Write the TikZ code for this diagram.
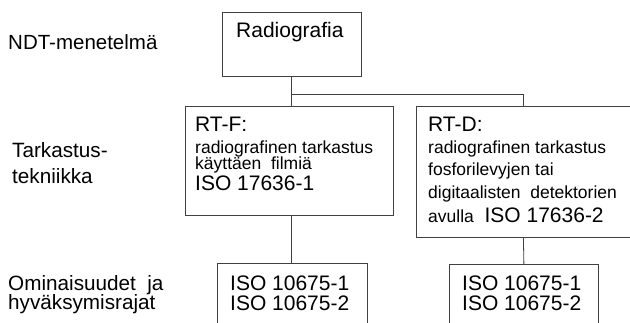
\documentclass[tikz,border=0pt]{standalone}
\usepackage{fontspec}
\setmainfont{Liberation Sans}
\usepackage{tikz}

\begin{document}
\begin{tikzpicture}[x=1pt,y=-1pt]
\definecolor{chartLine}{HTML}{404040}
\tikzset{
  box/.style={draw=chartLine,line width=0.8pt,inner sep=0pt,anchor=north west},
  bigtext/.style={font=\fontsize{21}{21}\selectfont,inner sep=0pt,anchor=base west},
  smalltext/.style={font=\fontsize{17.5}{17.5}\selectfont,inner sep=0pt,anchor=base west},
  rowlabel/.style={font=\fontsize{20.5}{20}\selectfont,inner sep=0pt,anchor=base west,align=left}
}
\useasboundingbox (0,0) rectangle (630,322);
% row labels (base = last line)
\node[rowlabel] (ndt) at (8,49) {NDT-menetelmä};
\node[rowlabel,font=\fontsize{20.7}{26}\selectfont] (tekniikka) at (12,183) {Tarkastus-\\tekniikka};
\node[rowlabel,font=\fontsize{20.7}{19.5}\selectfont] (rajat) at (8,309.5) {Ominaisuudet\ \ ja\\hyväksymisrajat};
% boxes
\node[box,minimum width=139,minimum height=64] (radio) at (222,12) {};
\node[box,minimum width=208,minimum height=109] (rtf) at (185,106) {};
\node[box,minimum width=214,minimum height=131] (rtd) at (416,106) {};
\node[box,minimum width=150,minimum height=80] (isoF) at (217,263) {};
\node[box,minimum width=149,minimum height=80] (isoD) at (449,264) {};
% texts in the boxes
\node[bigtext] (radiotext) at (236,37) {Radiografia};
\node[bigtext] (rtfhead) at (195,131.7) {RT-F:};
\node[smalltext] (rtfa) at (195,153) {radiografinen tarkastus};
\node[smalltext] (rtfb) at (195,169) {käyttäen\ \ filmiä};
\node[bigtext] (rtfiso) at (195,190.7) {ISO 17636-1};
\node[bigtext] (rtdhead) at (428,131.7) {RT-D:};
\node[smalltext] (rtda) at (428,153) {radiografinen tarkastus};
\node[smalltext] (rtdb) at (428,175.5) {fosforilevyjen tai};
\node[smalltext] (rtdc) at (428,198.5) {digitaalisten\ \ detektorien};
\node[smalltext] (rtdd) at (428,222) {avulla {\fontsize{21}{21}\selectfont\ ISO 17636-2}};
\foreach \x/\nm in {230/F,462/D} {
  \node[bigtext] (iso\nm a) at (\x,290.7) {ISO 10675-1};
  \node[bigtext] (iso\nm b) at (\x,310) {ISO 10675-2};
}
% connectors
\coordinate (split) at (291,94);
\draw[chartLine,line width=0.8pt] (radio.south -| split) -- (rtf.north -| split);
\draw[chartLine,line width=0.8pt] (split) -| (rtd.north);
\draw[chartLine,line width=0.8pt] (rtf.south -| split) -- (isoF.north -| split);
\draw[chartLine,line width=0.8pt] (rtd.south) -- (isoD.north);
\end{tikzpicture}
\end{document}
